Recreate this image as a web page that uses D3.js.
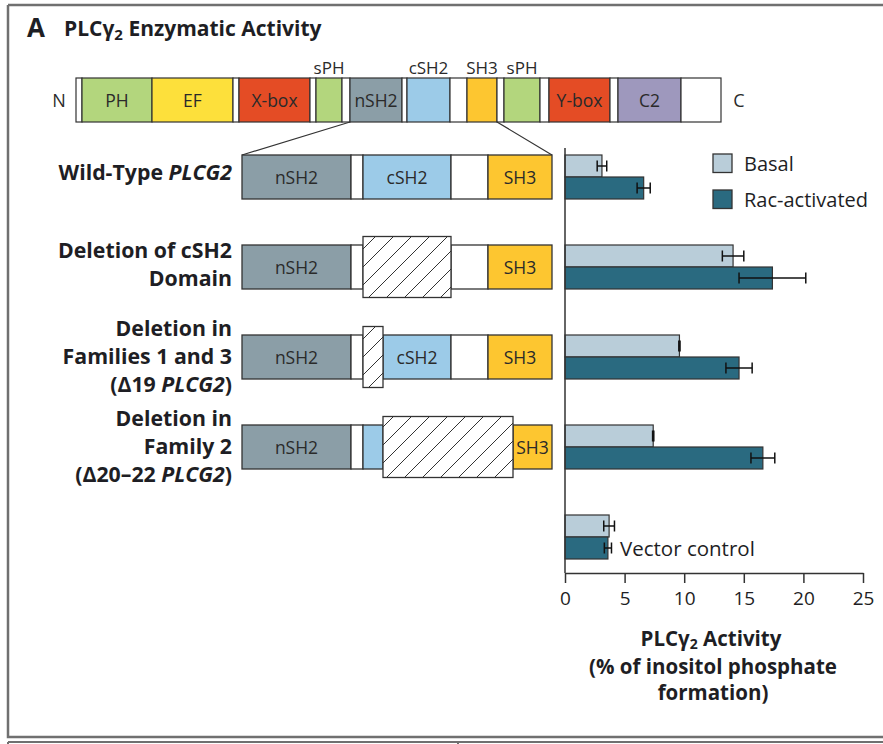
<!DOCTYPE html>
<html><head><meta charset="utf-8">
<script src="https://cdn.jsdelivr.net/npm/d3@7"></script>
<style>
body{margin:0;background:#fff}
svg{display:block;font-family:"Open Sans",sans-serif}
</style>
</head><body>
<svg id="c" width="883" height="744"></svg>
<script>
// ---------- DATA ----------
const rows = ["wt", "dcsh2", "d19", "d2022", "vector"];
const series = ["Basal", "Rac-activated"];
const basal    = [3.1, 14.1, 9.6, 7.4, 3.7];
const basalErr = [0.4, 0.9, 0.05, 0.05, 0.45];
const rac      = [6.6, 17.4, 14.6, 16.6, 3.6];
const racErr   = [0.55, 2.8, 1.1, 1.0, 0.3];
const tickValues = [0, 5, 10, 15, 20, 25];

// full PLCγ2 schematic: domain names and their end positions (schematic units)
const fullNames = ["", "PH", "EF", "", "X-box", "", "sPH", "", "nSH2", "", "cSH2", "", "SH3", "", "sPH", "", "Y-box", "", "C2", ""];
const fullEnds  = [6, 76, 157, 163, 234, 240, 266, 274, 326, 331, 374, 391, 421, 428, 464, 473, 534, 542, 605, 645];
const fullLabelAbove = ["sPH", "cSH2", "SH3"];

// expanded constructs (schematic units of the nSH2–SH3 region)
const constructNames = [
  ["nSH2", "", "cSH2", "", "SH3"],
  ["nSH2", "", "del", "", "SH3"],
  ["nSH2", "", "del", "cSH2", "", "SH3"],
  ["nSH2", "", "cSH2", "del", "SH3"]
];
const constructEnds = [
  [109, 121, 209, 246, 310],
  [109, 121, 209, 246, 310],
  [109, 121, 141, 209, 246, 310],
  [109, 121, 141, 271, 310]
];

const rowLabels = [
  [[["Wild-Type ", 0], ["PLCG2", 1]]],
  [[["Deletion of cSH2", 0]], [["Domain ", 0]]],
  [[["Deletion in", 0]], [["Families 1 and 3", 0]], [["(\u039419 ", 0], ["PLCG2", 1], [")", 0]]],
  [[["Deletion in", 0]], [["Family 2", 0]], [["(\u039420\u201322 ", 0], ["PLCG2", 1], [")", 0]]]
];

// ---------- STYLE ----------
const colors = {
  "PH": "#b3d67d", "sPH": "#b3d67d", "EF": "#fde03b", "X-box": "#e44c25", "Y-box": "#e44c25",
  "nSH2": "#8b9ea7", "cSH2": "#9ccbe8", "SH3": "#fdc630", "C2": "#9e98bd", "": "#ffffff", "del": "url(#hatch)"
};
const seriesColor = {"Basal": "#b9cdd9", "Rac-activated": "#2a6a80"};
const ink = "#1e1e24";
const strokeC = "#333";

const svg = d3.select("#c");

// hatch pattern
const defs = svg.append("defs");
const hp = 18;
const pat = defs.append("pattern").attr("id", "hatch").attr("patternUnits", "userSpaceOnUse")
  .attr("width", hp).attr("height", hp);
pat.append("rect").attr("width", hp).attr("height", hp).attr("fill", "#fff");
pat.append("path").attr("d", `M0,${hp} L${hp},0 M-4,4 L4,-4 M${hp - 4},${hp + 4} L${hp + 4},${hp - 4}`)
  .attr("stroke", "#333").attr("stroke-width", 1);

// frame
const frame = svg.append("g").attr("stroke", "#707070").attr("stroke-width", 2.5).attr("fill", "none");
frame.append("path").attr("d", "M8,5 H883 M8,5 V737 H883");
frame.append("path").attr("d", "M8,742 V744 M8,742 H883 M458,742 V744").attr("stroke-width", 2);

// title
svg.append("text").attr("x", 27).attr("y", 37).attr("fill", ink).attr("font-weight", 700)
  .attr("font-size", 26).text("A");
const t2 = svg.append("text").attr("x", 64).attr("y", 36).attr("fill", ink).attr("font-weight", 700).attr("font-size", 21);
t2.append("tspan").text("PLC\u03b3");
t2.append("tspan").attr("font-size", 15).attr("dy", 4).text("2");
t2.append("tspan").attr("dy", -4).text(" Enzymatic Activity");

// ---------- full protein schematic ----------
const fx = d3.scaleLinear().domain([0, 645]).range([76, 721]);
const fullTop = 78, fullH = 44;
const fullSegs = fullNames.map((n, i) => ({name: n, start: i ? fullEnds[i - 1] : 0, end: fullEnds[i]}));
const gFull = svg.append("g");
gFull.selectAll("rect").data(fullSegs).join("rect")
  .attr("x", d => fx(d.start)).attr("y", fullTop)
  .attr("width", d => fx(d.end) - fx(d.start)).attr("height", fullH)
  .attr("fill", d => colors[d.name]).attr("stroke", strokeC).attr("stroke-width", 1.2);
gFull.selectAll("text.in").data(fullSegs.filter(d => d.name && !fullLabelAbove.includes(d.name))).join("text")
  .attr("class", "in")
  .attr("x", d => (fx(d.start) + fx(d.end)) / 2).attr("y", fullTop + 28.5)
  .attr("text-anchor", "middle").attr("font-size", 17.5).attr("fill", "#2a2a2a").text(d => d.name);
gFull.selectAll("text.ab").data(fullSegs.filter(d => fullLabelAbove.includes(d.name))).join("text")
  .attr("class", "ab")
  .attr("x", d => (fx(d.start) + fx(d.end)) / 2).attr("y", fullTop - 4)
  .attr("text-anchor", "middle").attr("font-size", 17).attr("fill", "#2a2a2a").text(d => d.name);
svg.append("text").attr("x", 59).attr("y", fullTop + 28.5).attr("text-anchor", "middle").attr("font-size", 18).attr("fill", "#2a2a2a").text("N");
svg.append("text").attr("x", 739).attr("y", fullTop + 28.5).attr("text-anchor", "middle").attr("font-size", 18).attr("fill", "#2a2a2a").text("C");

// ---------- constructs ----------
const ex = d3.scaleLinear().domain([0, 310]).range([242, 552]);
const yRow = d3.scalePoint().domain(rows).range([177, 537]);
const cH = 44, delExt = 8.5;

// zoom lines from full bar (nSH2 start, SH3 end) to expanded bar
const nStart = fullSegs.find(d => d.name === "nSH2").start;
const sEnd = fullSegs.find(d => d.name === "SH3").end;
const topExp = yRow("wt") - cH / 2;
svg.append("path")
  .attr("d", `M${fx(nStart)},${fullTop + fullH} L${ex(0)},${topExp} M${fx(sEnd)},${fullTop + fullH} L${ex(310)},${topExp}`)
  .attr("stroke", strokeC).attr("stroke-width", 1.2).attr("fill", "none");

constructNames.forEach((names, ci) => {
  const cy = yRow(rows[ci]);
  const segs = names.map((n, i) => ({name: n, start: i ? constructEnds[ci][i - 1] : 0, end: constructEnds[ci][i]}));
  const g = svg.append("g");
  const normal = segs.filter(d => d.name !== "del");
  const dels = segs.filter(d => d.name === "del");
  g.selectAll("rect.n").data(normal).join("rect").attr("class", "n")
    .attr("x", d => ex(d.start)).attr("y", cy - cH / 2)
    .attr("width", d => ex(d.end) - ex(d.start)).attr("height", cH)
    .attr("fill", d => colors[d.name]).attr("stroke", strokeC).attr("stroke-width", 1.3);
  g.selectAll("rect.d").data(dels).join("rect").attr("class", "d")
    .attr("x", d => ex(d.start)).attr("y", cy - cH / 2 - delExt)
    .attr("width", d => ex(d.end) - ex(d.start)).attr("height", cH + 2 * delExt)
    .attr("fill", colors.del).attr("stroke", strokeC).attr("stroke-width", 1.3);
  g.selectAll("text").data(normal.filter(d => d.name && ex(d.end) - ex(d.start) > 35)).join("text")
    .attr("x", d => (ex(d.start) + ex(d.end)) / 2).attr("y", cy + 7)
    .attr("text-anchor", "middle").attr("font-size", 17.5).attr("fill", "#2a2a2a")
    .text(d => d.name);

  // row label
  const lines = rowLabels[ci];
  const lh = 28;
  const first = cy + 7 - (lines.length - 1) * lh / 2 - (ci === 1 ? 2 : 0) - (lines.length === 1 ? 4 : 0);
  const t = svg.append("text").attr("text-anchor", "end").attr("font-weight", 700)
    .attr("font-size", 21.3).attr("fill", ink);
  lines.forEach((parts, li) => {
    parts.forEach((p, pi) => {
      const ts = t.append("tspan").text(p[0]).attr("font-style", p[1] ? "italic" : "normal");
      if (pi === 0) ts.attr("x", 232).attr("y", first + li * lh);
    });
  });
});

// ---------- bar chart ----------
const x = d3.scaleLinear().domain([0, 25]).range([565, 863]);
const sub = d3.scaleBand().domain(series).range([-22, 22]);
const barData = [];
rows.forEach((r, i) => {
  barData.push({row: r, s: "Basal", v: basal[i], e: basalErr[i]});
  barData.push({row: r, s: "Rac-activated", v: rac[i], e: racErr[i]});
});
const gb = svg.append("g");
gb.selectAll("rect").data(barData).join("rect")
  .attr("x", x(0)).attr("y", d => yRow(d.row) + sub(d.s))
  .attr("width", d => x(d.v) - x(0)).attr("height", sub.bandwidth())
  .attr("fill", d => seriesColor[d.s]).attr("stroke", strokeC).attr("stroke-width", 1.2);
const ge = gb.selectAll("g.err").data(barData).join("g").attr("class", "err")
  .attr("stroke", "#111").attr("stroke-width", 1.5);
const cyE = d => yRow(d.row) + sub(d.s) + sub.bandwidth() / 2;
ge.append("line")
  .attr("x1", d => x(d.v - d.e)).attr("x2", d => x(d.v + d.e))
  .attr("y1", cyE).attr("y2", cyE);
ge.append("line")
  .attr("x1", d => x(d.v - d.e)).attr("x2", d => x(d.v - d.e))
  .attr("y1", d => cyE(d) - 5.5).attr("y2", d => cyE(d) + 5.5);
ge.append("line")
  .attr("x1", d => x(d.v + d.e)).attr("x2", d => x(d.v + d.e))
  .attr("y1", d => cyE(d) - 5.5).attr("y2", d => cyE(d) + 5.5);

// vertical baseline
svg.append("line").attr("x1", x(0)).attr("x2", x(0)).attr("y1", 148).attr("y2", 573)
  .attr("stroke", strokeC).attr("stroke-width", 1.5);

// x axis
const axis = svg.append("g").attr("transform", "translate(0,573)")
  .call(d3.axisBottom(x).tickValues(tickValues).tickSize(10).tickSizeOuter(0).tickPadding(9));
axis.select(".domain").attr("stroke", strokeC).attr("stroke-width", 1.5);
axis.selectAll(".tick line").attr("stroke", strokeC).attr("stroke-width", 1.5);
axis.selectAll(".tick text").attr("font-size", 19).attr("fill", ink).attr("font-family", "Open Sans, sans-serif");

// axis title
const at1 = svg.append("text").attr("x", 711).attr("y", 646).attr("text-anchor", "middle")
  .attr("font-weight", 700).attr("font-size", 20.5).attr("fill", ink);
at1.append("tspan").text("PLC\u03b3");
at1.append("tspan").attr("font-size", 14).attr("dy", 3).text("2");
at1.append("tspan").attr("dy", -3).text(" Activity");
svg.append("text").attr("x", 713).attr("y", 674).attr("text-anchor", "middle")
  .attr("font-weight", 700).attr("font-size", 20.5).attr("fill", ink).text("(% of inositol phosphate");
svg.append("text").attr("x", 713).attr("y", 700).attr("text-anchor", "middle")
  .attr("font-weight", 700).attr("font-size", 20.5).attr("fill", ink).text("formation)");

// vector control label
svg.append("text").attr("x", 620).attr("y", 556).attr("font-size", 20.5).attr("fill", ink).text("Vector control");

// legend
const lg = svg.append("g").attr("transform", "translate(713,154)");
series.forEach((s, i) => {
  const gy = i * 36;
  lg.append("rect").attr("x", 0).attr("y", gy).attr("width", 19).attr("height", 18.5)
    .attr("fill", seriesColor[s]).attr("stroke", strokeC).attr("stroke-width", 1.3);
  lg.append("text").attr("x", 31).attr("y", gy + 17).attr("font-size", 20).attr("fill", ink).text(s);
});
</script>
</body></html>
